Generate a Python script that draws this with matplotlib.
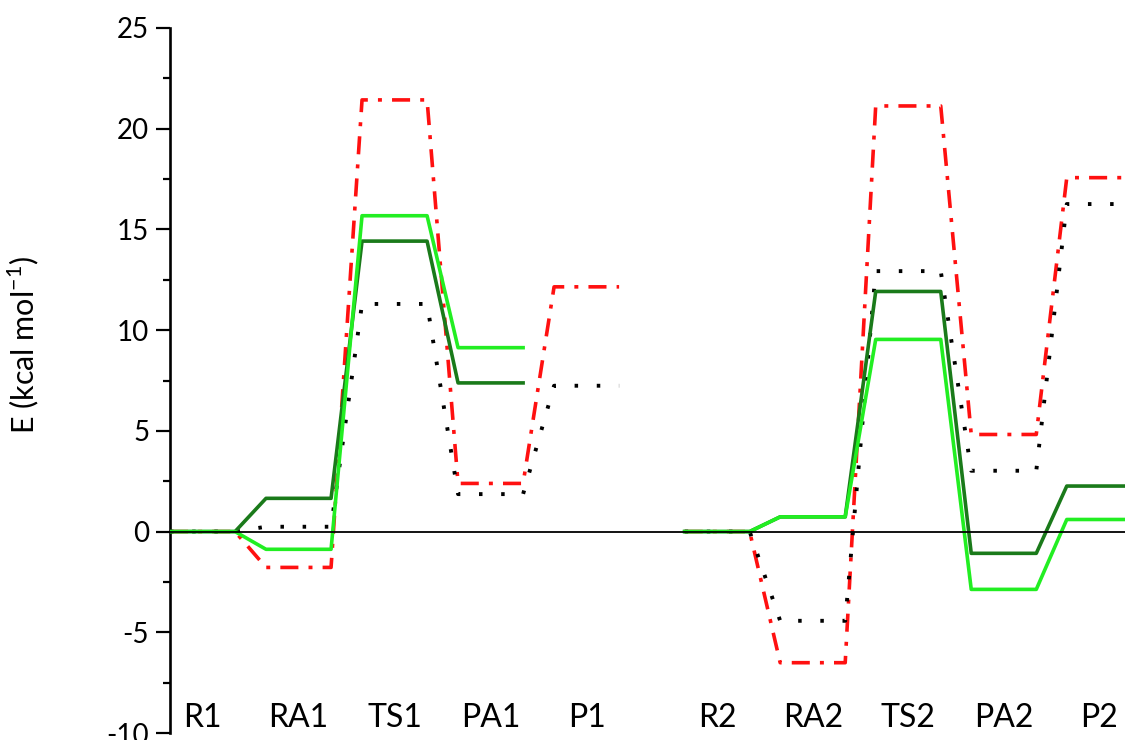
import numpy as np
import matplotlib
matplotlib.use('Agg')
import matplotlib.pyplot as plt

plt.rcParams['font.family'] = ['Lato', 'DejaVu Sans']
plt.rcParams['mathtext.fontset'] = 'custom'
plt.rcParams['mathtext.rm'] = 'Lato'
plt.rcParams['axes.unicode_minus'] = False

# States along the two reaction paths
states_1 = ['R1', 'RA1', 'TS1', 'PA1', 'P1']
states_2 = ['R2', 'RA2', 'TS2', 'PA2', 'P2']

# Relative energies (kcal/mol), NaN = level not shown
dark_green_1 = [0.0, 1.65, 14.42, 7.38, np.nan]
dark_green_2 = [0.0, 0.73, 11.92, -1.08, 2.26]
light_green_1 = [0.0, -0.88, 15.68, 9.13, np.nan]
light_green_2 = [0.0, 0.73, 9.54, -2.87, 0.60]
red_1 = [0.0, -1.78, 21.43, 2.39, 12.15]
red_2 = [0.0, -6.51, 21.13, 4.82, 17.57]
black_1 = [0.0, 0.24, 11.30, 1.86, 7.24]
black_2 = [0.0, -4.43, 12.93, 3.02, 16.26]


def level_path(centers, energies, half=0.337):
    """Build a stepped energy-level path: flat segment per state, joined by lines."""
    xs, ys = [], []
    for c, e in zip(centers, energies):
        if np.isnan(e):
            continue
        xs += [c - half, c + half]
        ys += [e, e]
    return xs, ys


centers_1 = 0.337 + np.arange(5) * 0.995
centers_2 = 5.67 + np.arange(5) * 0.99

fig = plt.figure(figsize=(11.25, 7.4), dpi=100)
ax = fig.add_axes([170 / 1125, 7 / 740, 1 - 170 / 1125, 705 / 740])

styles = [
    (red_1, red_2, dict(color='#ff1010', lw=2.6, dashes=(5.0, 2.8, 1.1, 2.8)), 2),
    (black_1, black_2, dict(color='black', lw=2.8, dashes=(0.9, 4.8)), 3),
    (dark_green_1, dark_green_2, dict(color='#1a7a1a', lw=2.6), 4),
    (light_green_1, light_green_2, dict(color='#22ee22', lw=2.6), 5),
]
for e1, e2, kw, z in styles:
    for cen, en in ((centers_1, e1), (centers_2, e2)):
        xs, ys = level_path(cen, en)
        ax.plot(xs, ys, zorder=z, **kw)

ax.axhline(0, color='black', lw=1.3, zorder=6)

# state labels inside the plot near the bottom
for cen, names in ((centers_1, states_1), (centers_2, states_2)):
    for c, name in zip(cen, names):
        ax.text(c, -9.7, name, ha='center', va='baseline', fontsize=23)

ax.set_xlim(0, 955 / 96.5)
ax.set_ylim(-10, 25)
ax.set_yticks(np.arange(-10, 26, 5))
ax.set_yticks(np.arange(-7.5, 25, 5), minor=True)
ax.tick_params(axis='y', which='major', length=10, width=1.6, labelsize=20, pad=5)
ax.tick_params(axis='y', which='minor', length=5, width=1.6)
ax.set_xticks([])
for side in ['top', 'right', 'bottom']:
    ax.spines[side].set_visible(False)
ax.spines['left'].set_linewidth(1.9)

ax.set_ylabel(r'E (kcal mol$^{\mathregular{-1}}$)', fontsize=22)
ax.yaxis.set_label_coords(-0.135, 0.55)

fig.savefig('out.png', dpi=100)
